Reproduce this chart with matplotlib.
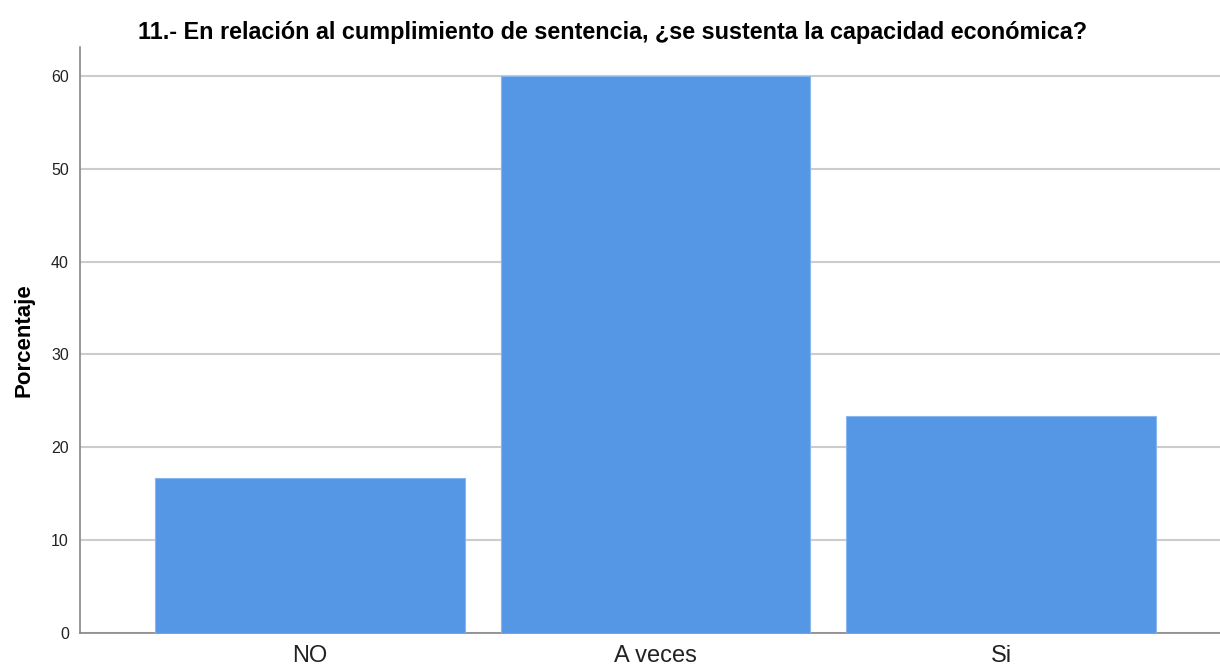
import matplotlib.pyplot as plt

categories = ["NO", "A veces", "Si"]
percentages = [16.67, 60.0, 23.33]
y_ticks = [0, 10, 20, 30, 40, 50, 60]

plt.rcParams['font.family'] = ['Liberation Sans', 'DejaVu Sans']

fig = plt.figure(figsize=(12.2, 6.68), dpi=100)
ax = fig.add_axes([0.0656, 0.0524, 0.9344, 0.877])

x = range(len(categories))
ax.bar(x, percentages, width=0.897, color='#5596e5', edgecolor='#8ab6ee',
       linewidth=0.8, zorder=3)

ax.set_xlim(-0.666, 2.634)
ax.set_ylim(0, 63.1)
ax.set_yticks(y_ticks)
ax.set_xticks(list(x))
ax.set_xticklabels(categories, fontsize=17, color='#222222')
ax.tick_params(axis='y', labelsize=11.5, length=0, pad=8, colors='#222222')
ax.tick_params(axis='x', length=0, pad=9)
ax.grid(axis='y', color='#cccccc', linewidth=1.5, zorder=0)

for side in ['top', 'right']:
    ax.spines[side].set_visible(False)
for side in ['left', 'bottom']:
    ax.spines[side].set_color('#888888')
    ax.spines[side].set_linewidth(1.2)

ax.set_ylabel("Porcentaje", fontsize=16, fontweight='bold', labelpad=12)
fig.suptitle("11.- En relación al cumplimiento de sentencia, ¿se sustenta la capacidad económica?",
             x=0.502, y=0.968, fontsize=16.8, fontweight='bold')

fig.savefig("out.png", dpi=100)
